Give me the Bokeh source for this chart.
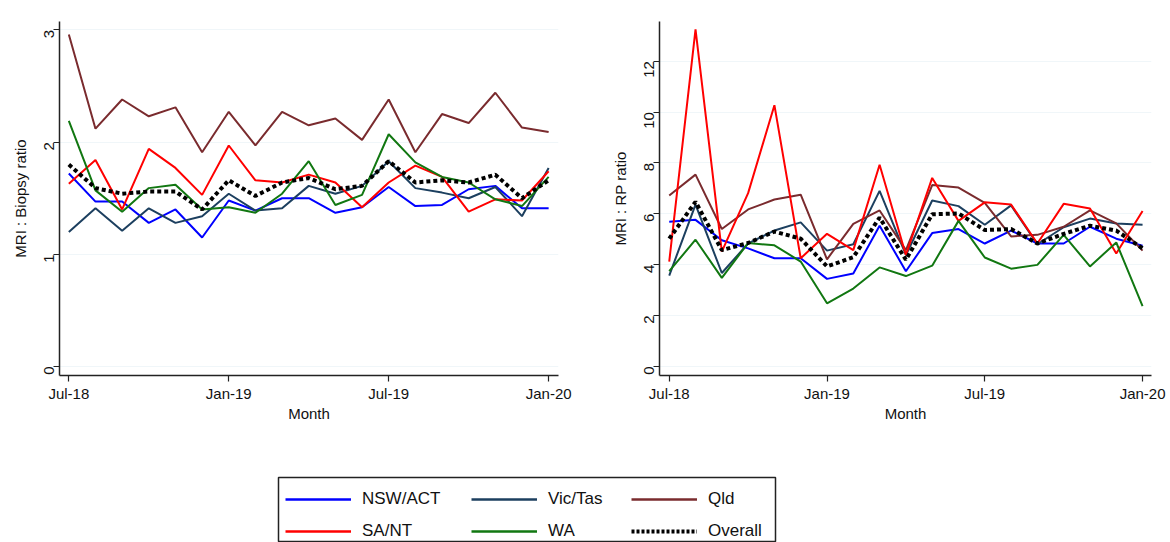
import math
from bokeh.plotting import figure
from bokeh.layouts import column, row
from bokeh.models import Range1d, FixedTicker, Legend, LegendItem, ColumnDataSource
from bokeh.embed import file_html
from bokeh.resources import INLINE

months = list(range(19))
month_ticks = [0, 6, 12, 18]
month_labels = ["Jul-18", "Jan-19", "Jul-19", "Jan-20"]

series_names = ["NSW/ACT", "Vic/Tas", "Qld", "SA/NT", "WA", "Overall"]

# MRI : Biopsy ratio
bx_nsw = [1.72, 1.47, 1.47, 1.28, 1.40, 1.15, 1.48, 1.39, 1.50, 1.50, 1.37, 1.42, 1.60, 1.43, 1.44, 1.58, 1.61, 1.41, 1.41]
bx_vic = [1.20, 1.41, 1.21, 1.41, 1.28, 1.34, 1.54, 1.39, 1.41, 1.61, 1.54, 1.61, 1.83, 1.59, 1.55, 1.50, 1.60, 1.34, 1.77]
bx_qld = [2.96, 2.12, 2.38, 2.23, 2.31, 1.91, 2.27, 1.97, 2.27, 2.15, 2.21, 2.02, 2.38, 1.91, 2.25, 2.17, 2.44, 2.13, 2.09]
bx_sa = [1.63, 1.84, 1.40, 1.94, 1.77, 1.53, 1.97, 1.66, 1.64, 1.71, 1.64, 1.42, 1.64, 1.79, 1.69, 1.38, 1.49, 1.48, 1.74]
bx_wa = [2.19, 1.57, 1.38, 1.59, 1.62, 1.40, 1.42, 1.37, 1.54, 1.83, 1.44, 1.53, 2.07, 1.82, 1.69, 1.64, 1.49, 1.43, 1.69]
bx_all = [1.80, 1.59, 1.54, 1.56, 1.56, 1.40, 1.66, 1.52, 1.64, 1.68, 1.58, 1.61, 1.83, 1.64, 1.66, 1.64, 1.71, 1.50, 1.66]

# MRI : RP ratio
rp_nsw = [5.69, 5.76, 4.96, 4.64, 4.25, 4.25, 3.44, 3.65, 5.53, 3.74, 5.24, 5.40, 4.83, 5.34, 4.83, 4.83, 5.49, 5.02, 4.74]
rp_vic = [3.57, 6.36, 3.67, 4.83, 5.34, 5.66, 4.55, 4.80, 6.90, 4.38, 6.52, 6.30, 5.57, 6.33, 4.80, 5.47, 5.81, 5.62, 5.57]
rp_qld = [6.72, 7.54, 5.40, 6.17, 6.56, 6.75, 4.21, 5.60, 6.13, 4.57, 7.13, 7.03, 6.43, 5.11, 5.17, 5.49, 6.13, 5.62, 4.55]
rp_sa = [4.12, 13.25, 4.51, 6.81, 10.27, 4.25, 5.21, 4.57, 7.93, 4.38, 7.41, 5.72, 6.45, 6.36, 4.83, 6.39, 6.21, 4.44, 6.11]
rp_wa = [3.74, 4.98, 3.48, 4.85, 4.76, 4.12, 2.48, 3.06, 3.89, 3.55, 3.96, 5.72, 4.28, 3.84, 3.99, 5.17, 3.93, 4.87, 2.37]
rp_all = [5.02, 6.47, 4.57, 4.85, 5.30, 5.02, 3.93, 4.29, 5.85, 4.19, 5.98, 6.01, 5.36, 5.40, 4.83, 5.21, 5.53, 5.34, 4.64]

colors = {
    "NSW/ACT": "#0000ff",
    "Vic/Tas": "#1c3f5f",
    "Qld": "#7a2b2e",
    "SA/NT": "#ff0000",
    "WA": "#117711",
    "Overall": "#000000",
}

FONT = "Liberation Sans"


def style(p, ylabel, yticks):
    p.outline_line_color = None
    p.background_fill_color = "white"
    p.border_fill_color = "white"
    p.xgrid.grid_line_color = None
    p.ygrid.grid_line_color = "#f0f6f9"
    p.ygrid.grid_line_width = 1
    p.xaxis.ticker = FixedTicker(ticks=month_ticks)
    p.xaxis.major_label_overrides = {t: l for t, l in zip(month_ticks, month_labels)}
    p.yaxis.ticker = FixedTicker(ticks=yticks)
    p.yaxis.major_label_orientation = math.pi / 2
    for ax in (p.xaxis[0], p.yaxis[0]):
        ax.axis_line_color = "#222222"
        ax.axis_line_width = 1.5
        ax.major_tick_line_color = "#222222"
        ax.major_tick_line_width = 1.2
        ax.major_tick_out = 6
        ax.major_tick_in = 0
        ax.minor_tick_line_color = None
        ax.major_label_text_font = FONT
        ax.major_label_text_font_size = "15px"
        ax.major_label_text_color = "#111111"
        ax.axis_label_text_font = FONT
        ax.axis_label_text_font_size = "15px"
        ax.axis_label_text_font_style = "normal"
        ax.axis_label_text_color = "#111111"
    p.xaxis.axis_label = "Month"
    p.xaxis.major_label_standoff = 3
    p.xaxis.axis_label_standoff = 0
    p.yaxis.axis_label = ylabel
    p.yaxis.major_label_standoff = 4
    p.yaxis.axis_label_standoff = 8


def add_lines(p, data):
    for name, ys in zip(series_names, data):
        src = ColumnDataSource(dict(x=months, y=ys))
        if name == "Overall":
            p.line("x", "y", source=src, line_color=colors[name], line_width=4,
                   line_dash="4 3")
        else:
            p.line("x", "y", source=src, line_color=colors[name], line_width=2)


H = 438

p1 = figure(width=608, height=H, output_backend="svg", toolbar_location=None,
            x_range=Range1d(-0.35, 18.37), y_range=Range1d(-0.08, 3.075),
            min_border_left=59, min_border_right=50, min_border_top=21,
            min_border_bottom=63)
style(p1, "MRI : Biopsy ratio", [0, 1, 2, 3])
add_lines(p1, [bx_nsw, bx_vic, bx_qld, bx_sa, bx_wa, bx_all])

p2 = figure(width=560, height=H, output_backend="svg", toolbar_location=None,
            x_range=Range1d(-0.37, 18.34), y_range=Range1d(-0.36, 13.56),
            min_border_left=32, min_border_right=17, min_border_top=13,
            min_border_bottom=63)
style(p2, "MRI : RP ratio", [0, 2, 4, 6, 8, 10, 12])
add_lines(p2, [rp_nsw, rp_vic, rp_qld, rp_sa, rp_wa, rp_all])

# legend panel: the frame outline forms the legend box
p3 = figure(width=1168, height=104, output_backend="svg", toolbar_location=None,
            x_range=Range1d(0, 1), y_range=Range1d(0, 1),
            min_border_left=278, min_border_right=393, min_border_top=39,
            min_border_bottom=0)
p3.axis.visible = False
p3.grid.grid_line_color = None
p3.outline_line_color = "#222222"
p3.outline_line_width = 1.5
leg_r = {}
for name in series_names:
    src = ColumnDataSource(dict(x=[-5, -4], y=[-5, -5]))
    if name == "Overall":
        leg_r[name] = p3.line("x", "y", source=src, line_color=colors[name], line_width=4, line_dash="3 2")
    else:
        leg_r[name] = p3.line("x", "y", source=src, line_color=colors[name], line_width=2.5)

legend_columns = [["NSW/ACT", "SA/NT"], ["Vic/Tas", "WA"], ["Qld", "Overall"]]
legend_x = [7, 193, 353]
frame_h = 104 - 39
leg_h = 8 + 24 + 8 + 24 + 8
for names, lx in zip(legend_columns, legend_x):
    lg = Legend(
        items=[LegendItem(label=n, renderers=[leg_r[n]]) for n in names],
        location=(lx, frame_h - leg_h + 6), orientation="vertical",
        margin=0, padding=8, spacing=8,
        label_text_font=FONT, label_text_font_size="17px", label_text_color="#111111",
        glyph_width=66, glyph_height=24, label_standoff=11, label_height=24,
        label_width=10,
        border_line_color=None, background_fill_alpha=0,
    )
    p3.add_layout(lg, "center")

layout = column(row(p1, p2), p3, spacing=0)
open("out.html", "w").write(file_html(layout, INLINE))
